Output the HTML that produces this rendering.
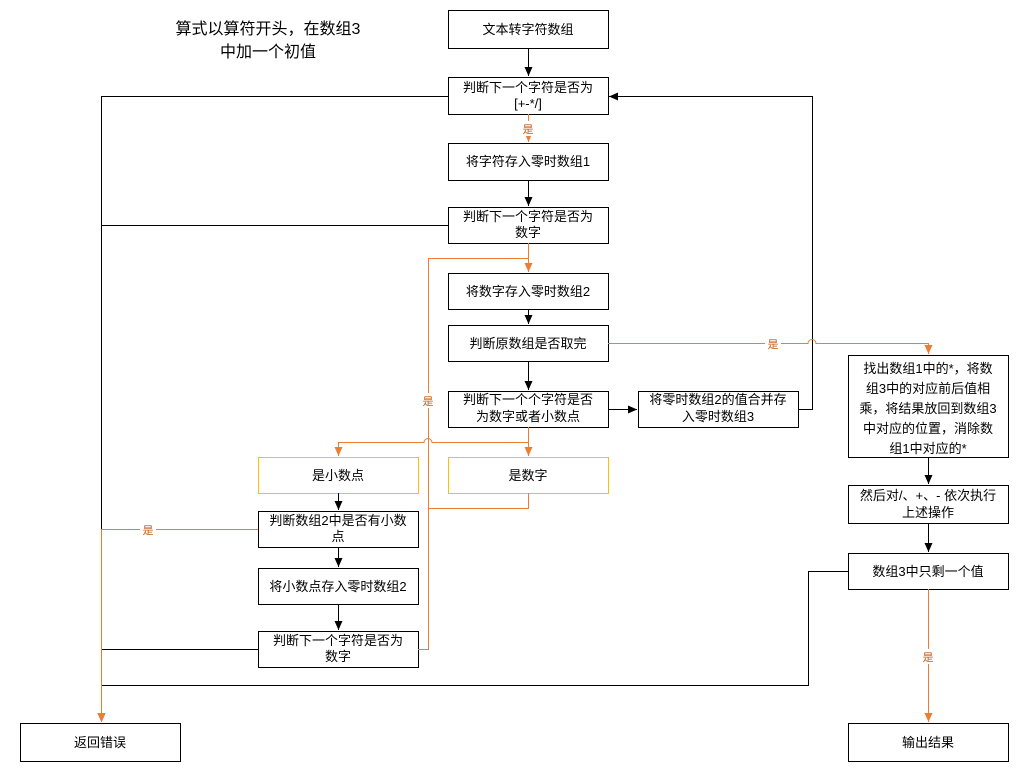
<!DOCTYPE html>
<html><head><meta charset="utf-8"><style>
body{margin:0;background:#fff;}
svg text{font-family:"Liberation Sans","Noto Sans CJK SC",sans-serif;font-size:13px;fill:#000;}
</style></head><body>
<svg width="1032" height="771" viewBox="0 0 1032 771" xmlns="http://www.w3.org/2000/svg">
<defs>
<marker id="ab" markerWidth="10" markerHeight="10" refX="9" refY="5" orient="auto" markerUnits="userSpaceOnUse"><path d="M0,1 L9,5 L0,9 z" fill="#000"/></marker>
<marker id="ao" markerWidth="10" markerHeight="10" refX="9" refY="5" orient="auto" markerUnits="userSpaceOnUse"><path d="M0,1 L9,5 L0,9 z" fill="#ED7D31"/></marker>
</defs>
<g fill="#fff" stroke="#000" stroke-width="1">
<rect x="448.5" y="10.5" width="160" height="38"/>
<rect x="448.5" y="77.5" width="160" height="37"/>
<rect x="448.5" y="143.5" width="160" height="37"/>
<rect x="448.5" y="207.5" width="160" height="36"/>
<rect x="448.5" y="273.5" width="160" height="36"/>
<rect x="448.5" y="325.5" width="160" height="36"/>
<rect x="448.5" y="391.5" width="160" height="36"/>
<rect x="638.5" y="391.5" width="160" height="36"/>
<rect x="258.5" y="511.5" width="160" height="36"/>
<rect x="258.5" y="568.5" width="160" height="36"/>
<rect x="258.5" y="631.5" width="160" height="36"/>
<rect x="848.5" y="355.5" width="160" height="102"/>
<rect x="848.5" y="485.5" width="160" height="38"/>
<rect x="848.5" y="553.5" width="160" height="36"/>
<rect x="20.5" y="723.5" width="160" height="38"/>
<rect x="848.5" y="723.5" width="160" height="38"/>
</g>
<g fill="#fff" stroke="#FFC000" stroke-width="1">
<rect x="258.5" y="457.5" width="160" height="36"/>
<rect x="448.5" y="457.5" width="160" height="36"/>
</g>
<g fill="none" stroke="#000" stroke-width="1">
<path d="M528.5 48 V76" marker-end="url(#ab)"/>
<path d="M528.5 180 V206" marker-end="url(#ab)"/>
<path d="M528.5 309 V324" marker-end="url(#ab)"/>
<path d="M528.5 361 V390" marker-end="url(#ab)"/>
<path d="M448 96.5 H101.5 V722" marker-end="url(#ab)"/>
<path d="M448 225.5 H101.5"/>
<path d="M258 649.5 H101.5"/>
<path d="M848 571.5 H808.5 V685.5 H101.5"/>
<path d="M608 409.5 H637" marker-end="url(#ab)"/>
<path d="M798 409.5 H812.5 V96.5 H609" marker-end="url(#ab)"/>
<path d="M338.5 493 V510" marker-end="url(#ab)"/>
<path d="M338.5 547 V567" marker-end="url(#ab)"/>
<path d="M338.5 604 V630" marker-end="url(#ab)"/>
<path d="M928.5 457 V484" marker-end="url(#ab)"/>
<path d="M928.5 523 V552" marker-end="url(#ab)"/>
</g>
<g fill="none" stroke="#ED7D31" stroke-width="1">
<path d="M528.5 114 V142" marker-end="url(#ao)"/>
<path d="M528.5 243 V272" marker-end="url(#ao)"/>
<path d="M608 343.5 H808 A4 4 0 0 1 816 343.5 H928.5 V354" marker-end="url(#ao)"/>
<path d="M528.5 427 V456" marker-end="url(#ao)"/>
<path d="M528.5 442.5 H432 A4 4 0 0 0 424 442.5 H338.5 V456" marker-end="url(#ao)"/>
<path d="M528.5 493 V508.5 H428.5 V258.5 H528.5"/>
<path d="M418 649.5 H428.5 V508"/>
<path d="M258 529.5 H101.5 V722" marker-end="url(#ao)"/>
<path d="M928.5 589 V722" marker-end="url(#ao)"/>
</g>
<g fill="#fff">
<rect x="520" y="121" width="16" height="15"/>
<rect x="765" y="336" width="16" height="15"/>
<rect x="420" y="393" width="16" height="15"/>
<rect x="140" y="522" width="16" height="15"/>
<rect x="920" y="649" width="16" height="15"/>
</g>
<g style="font-size:11px" text-anchor="middle">
<text x="528" y="133" style="fill:#C55A11;font-size:11px">是</text>
<text x="773" y="348" style="fill:#C55A11;font-size:11px">是</text>
<text x="428" y="405" style="fill:#C55A11;font-size:11px">是</text>
<text x="148" y="534" style="fill:#C55A11;font-size:11px">是</text>
<text x="928" y="661" style="fill:#C55A11;font-size:11px">是</text>
</g>
<g text-anchor="middle">
<text x="528" y="34">文本转字符数组</text>
<text x="528" y="92">判断下一个字符是否为</text>
<text x="528" y="108">[+-*/]</text>
<text x="528" y="166">将字符存入零时数组1</text>
<text x="528" y="221">判断下一个字符是否为</text>
<text x="528" y="237">数字</text>
<text x="528" y="296">将数字存入零时数组2</text>
<text x="528" y="348">判断原数组是否取完</text>
<text x="528" y="404">判断下一个个字符是否</text>
<text x="528" y="421">为数字或者小数点</text>
<text x="718" y="404">将零时数组2的值合并存</text>
<text x="718" y="421">入零时数组3</text>
<text x="338" y="480">是小数点</text>
<text x="528" y="480">是数字</text>
<text x="338" y="525">判断数组2中是否有小数</text>
<text x="338" y="541">点</text>
<text x="338" y="591">将小数点存入零时数组2</text>
<text x="338" y="645">判断下一个字符是否为</text>
<text x="338" y="661">数字</text>
<text x="928" y="373">找出数组1中的*，将数</text>
<text x="928" y="393">组3中的对应前后值相</text>
<text x="928" y="413">乘，将结果放回到数组3</text>
<text x="928" y="433">中对应的位置，消除数</text>
<text x="928" y="453">组1中对应的*</text>
<text x="928" y="500">然后对/、+、- 依次执行</text>
<text x="928" y="517">上述操作</text>
<text x="928" y="576">数组3中只剩一个值</text>
<text x="100" y="747">返回错误</text>
<text x="928" y="747">输出结果</text>
<text x="268" y="34" style="font-size:16px">算式以算符开头，在数组3</text>
<text x="268" y="57" style="font-size:16px">中加一个初值</text>
</g>
</svg>
</body></html>
